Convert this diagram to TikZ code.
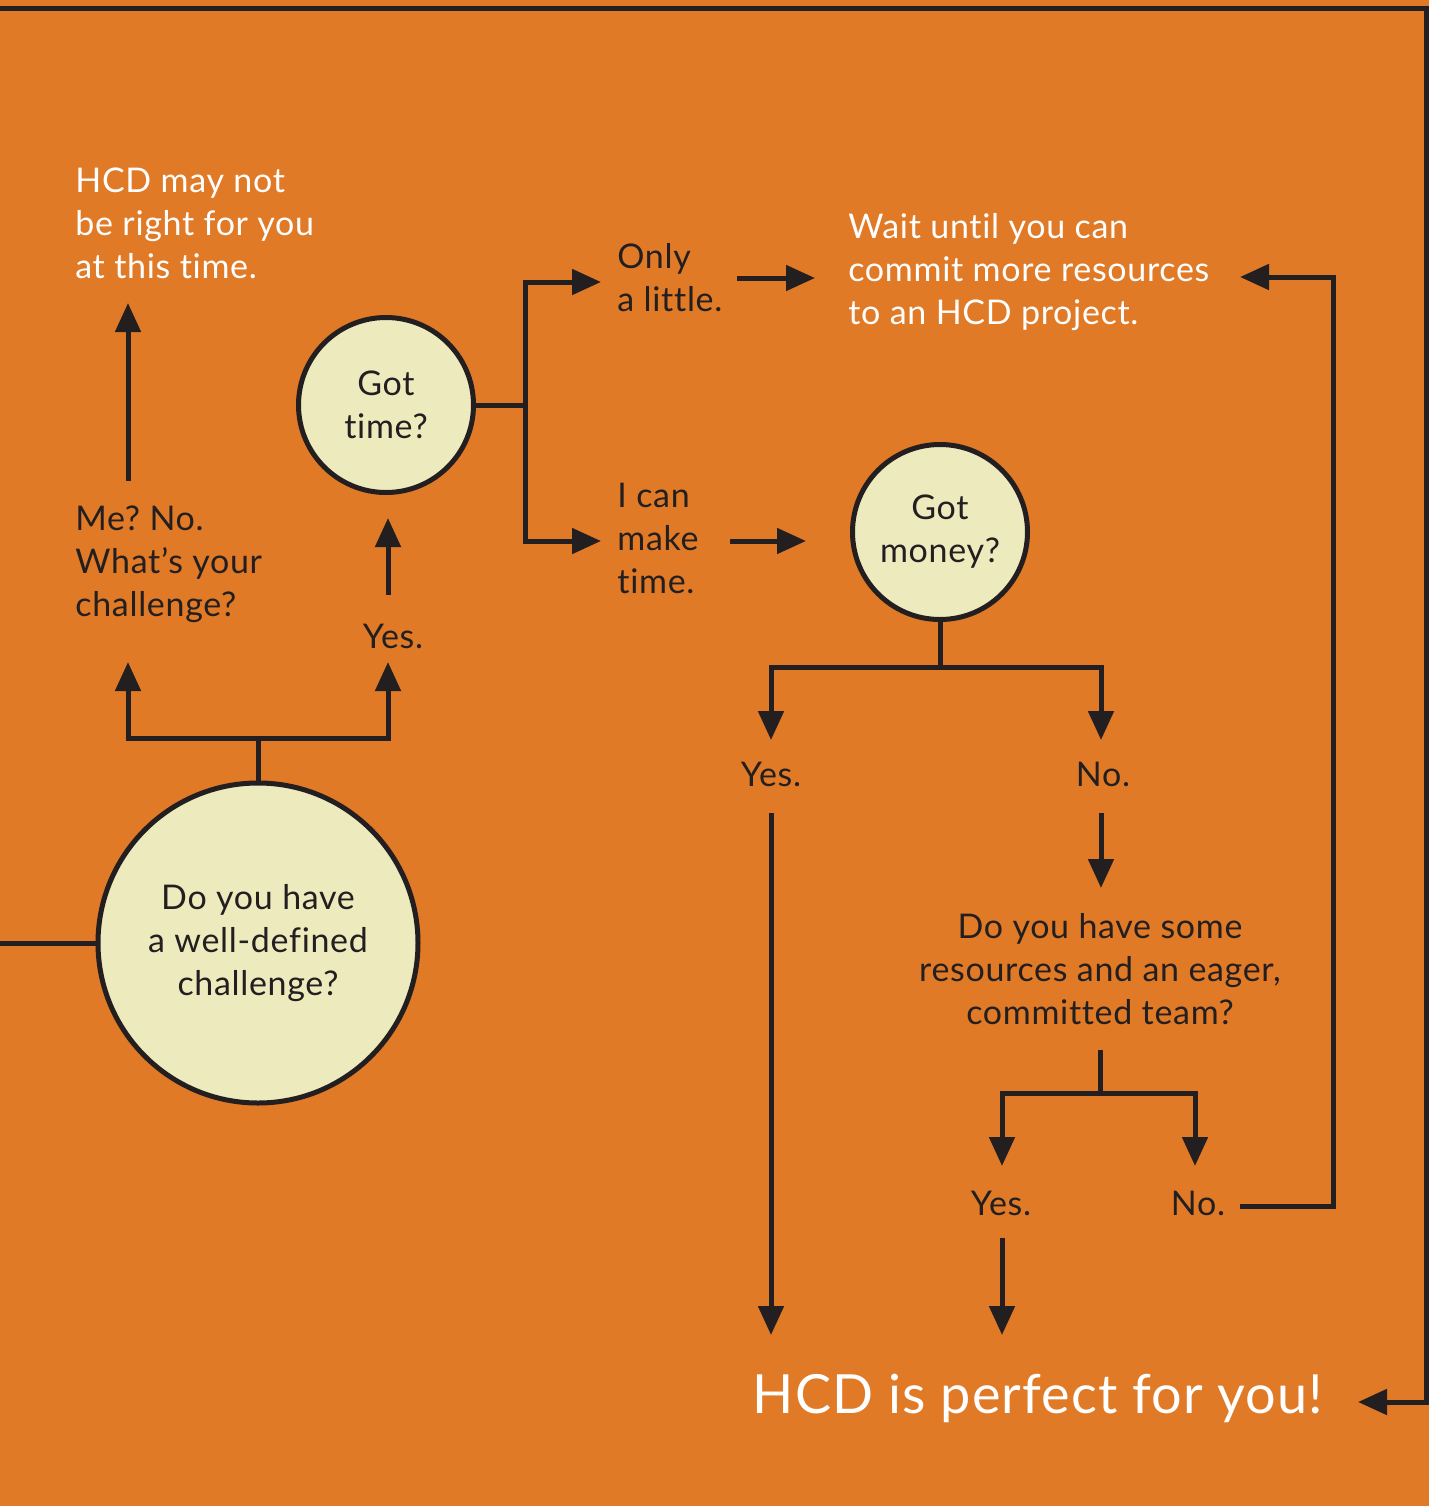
\documentclass[tikz,border=0pt]{standalone}
\usepackage{fontspec}
\setmainfont{Lato}[LetterSpace=2.0,Ligatures={NoCommon}]
\usetikzlibrary{positioning,arrows.meta}
\frenchspacing

\definecolor{hcdorange}{HTML}{E07A27}
\definecolor{hcdcream}{HTML}{EDEABD}
\definecolor{hcdink}{HTML}{231F20}
\newcommand{\qfont}{\fontsize{17}{21.5}\selectfont}
\newcommand{\bigfont}{\fontsize{27}{32}\selectfont}

\begin{document}
\begin{tikzpicture}[
  x=0.5pt,y=-0.5pt,
  flow/.style={draw=hcdink,line width=2.5pt},
  arrow/.style={flow,-{Triangle[length=14.5pt,width=12.5pt]}},
  question/.style={circle,draw=hcdink,line width=2.5pt,fill=hcdcream,text=hcdink,
    align=center,inner sep=0pt,font=\qfont},
  answer/.style={text=hcdink,align=left,inner sep=0pt,anchor=west,font=\qfont},
  outcome/.style={text=white,align=left,inner sep=0pt,anchor=west,font=\qfont},
]
  \fill[hcdorange] (0,0) rectangle (1429,1506);
  \useasboundingbox (0,0) rectangle (1429,1506);

  % Questions
  \node[question,minimum size=160pt] (challenge) at (258,943) {Do you have\\a well-defined\\challenge?};
  \node[question,minimum size=87.5pt] (time) at (386,405) {Got\\time?};
  \node[question,minimum size=87.5pt] (money) at (940,532) {Got\\money?};
  \node[answer,anchor=center,align=center] (team) at (1100,969) {Do you have some\\resources and an eager,\\committed team?};

  % Answers
  \node[answer] (meno) at (75,564) {Me? No.\\What’s your\\challenge?};
  \node[answer,anchor=center] (yesA) at (393,636) {Yes.};
  \node[answer] (little) at (617,278) {Only\\a little.};
  \node[answer] (maketime) at (617,538) {I can\\make\\time.};
  \node[answer,anchor=center] (yesB) at (771,774) {Yes.};
  \node[answer,anchor=center] (noB) at (1103,774) {No.};
  \node[answer,anchor=center] (yesC) at (1001,1203) {Yes.};
  \node[answer,anchor=center] (noC) at (1198,1203) {No.};

  % Outcomes
  \node[outcome] (notnow) at (75,223) {HCD may not\\be right for you\\at this time.};
  \node[outcome] (wait) at (848,272) {Wait until you can\\commit more resources\\to an HCD project.};
  \node[outcome,anchor=center,font=\bigfont] (perfect) at (1038,1398) {HCD is perfect for you!};

  % Junctions and arrow ends
  \coordinate (rootfork) at (258,738);
  \coordinate (menoIn) at (128,662);
  \coordinate (yesAIn) at (388,662);
  \coordinate (menoOut) at (128,481);
  \coordinate (notnowIn) at (128,303);
  \coordinate (yesAOut) at (388,595);
  \coordinate (timeIn) at (388,518);
  \coordinate (timefork) at (525,405);
  \coordinate (littleIn) at (601,282);
  \coordinate (maketimeIn) at (601,541);
  \coordinate (littleOut) at (737,278);
  \coordinate (waitIn) at (815,278);
  \coordinate (maketimeOut) at (730,541);
  \coordinate (moneyIn) at (806,541);
  \coordinate (moneyfork) at (940,667);
  \coordinate (yesBIn) at (771,740);
  \coordinate (noBIn) at (1101,740);
  \coordinate (yesBOut) at (771,813);
  \coordinate (noBOut) at (1101,813);
  \coordinate (teamIn) at (1101,888);
  \coordinate (teamOut) at (1100,1050);
  \coordinate (teamfork) at (1100,1093);
  \coordinate (yesCIn) at (1002,1166);
  \coordinate (noCIn) at (1195,1166);
  \coordinate (yesCOut) at (1002,1238);
  \coordinate (noCOut) at (1240,1206);
  \coordinate (retry) at (1333,1206);
  \coordinate (waitBack) at (1240,277);
  \coordinate (perfectInA) at (771,1335);
  \coordinate (perfectInB) at (1002,1335);
  \coordinate (offleft) at (0,943);
  \coordinate (topleft) at (0,8);
  \coordinate (topright) at (1426,8);
  \coordinate (loopend) at (1426,1402);
  \coordinate (perfectIn) at (1358,1402);

  % Edges: challenge
  \draw[flow] (challenge.west) -- (offleft);
  \draw[flow] (challenge.north) -- (rootfork);
  \draw[arrow] (rootfork) -| (menoIn);
  \draw[arrow] (rootfork) -| (yesAIn);
  \draw[arrow] (menoOut) -- (notnowIn);
  \draw[arrow] (yesAOut) -- (timeIn);

  % Edges: time
  \draw[flow] (time.east) -- (timefork);
  \draw[arrow] (timefork) |- (littleIn);
  \draw[arrow] (timefork) |- (maketimeIn);
  \draw[arrow] (littleOut) -- (waitIn);
  \draw[arrow] (maketimeOut) -- (moneyIn);

  % Edges: money
  \draw[flow] (money.south) -- (moneyfork);
  \draw[arrow] (moneyfork) -| (yesBIn);
  \draw[arrow] (moneyfork) -| (noBIn);
  \draw[arrow] (yesBOut) -- (perfectInA);
  \draw[arrow] (noBOut) -- (teamIn);

  % Edges: team
  \draw[flow] (teamOut) -- (teamfork);
  \draw[arrow] (teamfork) -| (yesCIn);
  \draw[arrow] (teamfork) -| (noCIn);
  \draw[arrow] (yesCOut) -- (perfectInB);
  \draw[arrow] (noCOut) -- (retry) |- (waitBack);

  % Outer loop
  \draw[arrow] (topleft) -- (topright) -- (loopend) -- (perfectIn);
\end{tikzpicture}
\end{document}
